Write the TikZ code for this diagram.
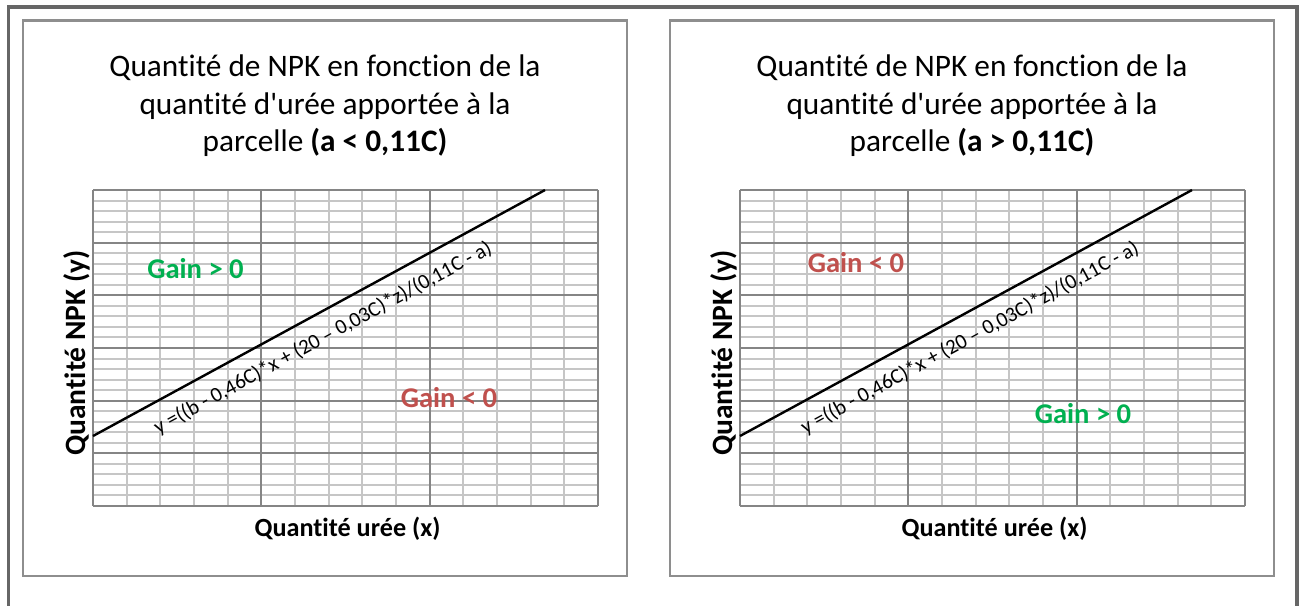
\documentclass[tikz,border=0pt]{standalone}
\usepackage{fontspec}
\setmainfont{Carlito}[Ligatures={TeXOff,NoCommon}]
\definecolor{frameouter}{HTML}{666666}
\definecolor{framepanel}{HTML}{8E8E8E}
\definecolor{gridminor}{HTML}{C6C6C6}
\definecolor{gridmajor}{HTML}{858585}
\definecolor{gainpos}{HTML}{00B050}
\definecolor{gainneg}{HTML}{C0504D}
\tikzset{
  outerframe/.style={draw=frameouter, line width=3.6pt},
  panelframe/.style={draw=framepanel, line width=2.3pt},
  minorline/.style={draw=gridminor, line width=1.7pt},
  majorline/.style={draw=gridmajor, line width=1.6pt},
  curveline/.style={draw=black, line width=2.4pt},
  titletext/.style={anchor=base, inner sep=0pt, font=\fontsize{31.3}{37.8}\selectfont},
  axistext/.style={anchor=base, inner sep=0pt, font=\fontsize{26.2}{30}\selectfont\bfseries},
  yaxistext/.style={anchor=base, inner sep=0pt, rotate=90, font=\fontsize{29.5}{34}\selectfont\bfseries},
  gaintext/.style={anchor=base, inner sep=0pt, font=\fontsize{28.6}{33}\selectfont\bfseries},
  eqtext/.style={inner sep=0pt, rotate=28.55, font=\fontsize{21}{25}\selectfont},
}
\begin{document}
\begin{tikzpicture}[x=1pt,y=-1pt]
\useasboundingbox (0,0) rectangle (1301,605);
\fill[white] (0,0) rectangle (1301,605);
\begin{scope}
\clip (0,0) rectangle (1301,605);
\draw[outerframe] (8.3,7) rectangle (1297,640);
\end{scope}
% ---------- panels: frames and grids ----------
\foreach \ox in {0,647}{
  \foreach \i in {0,...,15} \draw[minorline] ({round(93+\ox+\i*33.667)},190) -- ({round(93+\ox+\i*33.667)},506);
  \foreach \j in {0,...,30} \draw[minorline] (93+\ox,{round(190+\j*10.533)}) -- (598+\ox,{round(190+\j*10.533)});
  \foreach \i in {0,5,10,15} \draw[majorline] ({round(93+\ox+\i*33.667)},190) -- ({round(93+\ox+\i*33.667)},506);
  \foreach \j in {0,5,10,15,20,25,30} \draw[majorline] (93+\ox,{round(190+\j*10.533)}) -- (598+\ox,{round(190+\j*10.533)});
}
\draw[panelframe] (22.8,20.5) rectangle (627,576);
\draw[panelframe] (669.8,20.5) rectangle (1274,576);
% ---------- left panel ----------
\node[titletext] (t1a) at (325,76) {Quantité de NPK en fonction de la};
\node[titletext] (t1b) at (325,114) {quantité d'urée apportée à la};
\node[titletext] (t1c) at (325,151.7) {parcelle \textbf{(a < 0,11C)}};
\coordinate (L1s) at (93,436);
\coordinate (L1e) at (545,190);
\draw[curveline] (L1s) -- (L1e);
\node[eqtext] (eq1) at (323,338) {y =((b - 0,46C)*x + (20 – 0,03C)*z)/(0,11C - a)};
\node[gaintext, text=gainpos] (g1a) at (195.5,278) {Gain > 0};
\node[gaintext, text=gainneg] (g1b) at (449,407) {Gain < 0};
\node[axistext] (x1) at (347.5,536) {Quantité urée (x)};
\node[yaxistext] (y1) at (85,353) {Quantité NPK (y)};
% ---------- right panel ----------
\node[titletext] (t2a) at (972,76) {Quantité de NPK en fonction de la};
\node[titletext] (t2b) at (972,114) {quantité d'urée apportée à la};
\node[titletext] (t2c) at (972,151.7) {parcelle \textbf{(a > 0,11C)}};
\coordinate (L2s) at (740,436);
\coordinate (L2e) at (1192,190);
\draw[curveline] (L2s) -- (L2e);
\node[eqtext] (eq2) at (970,338) {y =((b - 0,46C)*x + (20 – 0,03C)*z)/(0,11C - a)};
\node[gaintext, text=gainneg] (g2a) at (856,272) {Gain < 0};
\node[gaintext, text=gainpos] (g2b) at (1083,423) {Gain > 0};
\node[axistext] (x2) at (994.5,536) {Quantité urée (x)};
\node[yaxistext] (y2) at (732,353) {Quantité NPK (y)};
\end{tikzpicture}
\end{document}
